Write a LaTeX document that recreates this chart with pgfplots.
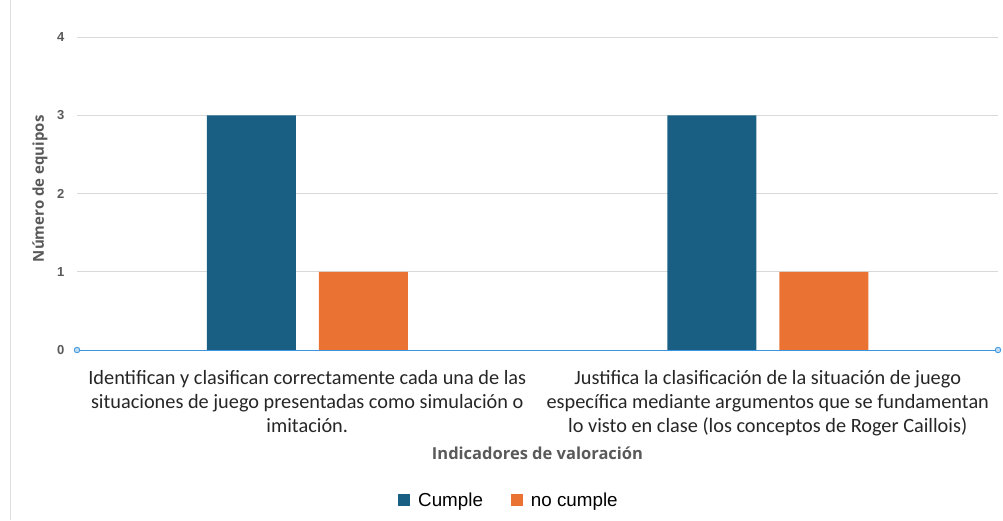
\documentclass[border=0pt]{standalone}
\usepackage{fontspec}
\setmainfont{Liberation Sans}
\newfontfamily\calibri{Carlito}
\newfontfamily\opensans{Open Sans}
\usepackage{pgfplots}
\pgfplotsset{compat=1.18}
\definecolor{cblue}{HTML}{185F83}
\definecolor{corange}{HTML}{EA7233}
\definecolor{axblue}{HTML}{3E95DE}
\definecolor{gridgray}{HTML}{D9D9D9}
\definecolor{titlegray}{HTML}{595959}
\definecolor{txtgray}{HTML}{262626}
\begin{document}
\begin{tikzpicture}[x=1pt,y=1pt]
\path[use as bounding box] (0,0) rectangle (1003,520);
\draw[gray!25, line width=0.8pt] (10.5,0) -- (10.5,520);
\begin{axis}[
  at={(77pt,170pt)}, anchor=south west,
  scale only axis, width=921pt, height=313pt,
  ymin=0, ymax=4, xmin=-0.5, xmax=1.5,
  ytick={0,1,2,3,4}, xtick={0,1},
  xticklabels={{Identifican y clasifican correctamente cada una de las\\situaciones de juego presentadas como simulación o\\imitación.},
               {Justifica la clasificación de la situación de juego\\específica mediante argumentos que se fundamentan\\lo visto en clase (los conceptos de Roger Caillois)}},
  ybar=23pt, bar width=89pt,
  axis lines*=left,
  y axis line style={draw=none},
  x axis line style={draw=none},
  major tick length=0pt,
  ymajorgrids, grid style={gridgray, line width=0.8pt},
  yticklabel style={font=\bfseries\fontsize{13}{14}\selectfont, text=titlegray, xshift=-9pt},
  xticklabel style={font=\calibri\fontsize{20.3}{24}\selectfont, align=center, text=txtgray, yshift=-17pt},
  /pgf/number format/assume math mode=true,
  ylabel={Número de equipos},
  ylabel style={font=\opensans\bfseries\fontsize{15}{17}\selectfont, text=titlegray, at={(rel axis cs:0,0.515)}, anchor=center, rotate=0, yshift=37pt},
  xlabel={Indicadores de valoración},
  xlabel style={font=\opensans\bfseries\fontsize{16.5}{18}\selectfont, text=titlegray, at={(rel axis cs:0.5,0)}, anchor=center, yshift=-103pt},
  legend style={at={(rel axis cs:0.469,0)}, anchor=center, yshift=-150pt, legend columns=2, draw=none, fill=none,
    font=\fontsize{18.8}{20}\selectfont, /tikz/every even column/.append style={column sep=26pt}},
  legend image code/.code={\draw[#1,draw=none] (0pt,-6pt) rectangle (12pt,6pt);},
  clip=false,
]
\addplot[fill=cblue, draw=none] coordinates {(0,3) (1,3)};
\addplot[fill=corange, draw=none] coordinates {(0,1) (1,1)};
\legend{\hspace{6pt}Cumple, \hspace{6pt}no cumple}
\draw[axblue, line width=1pt] (rel axis cs:0,0) -- (rel axis cs:1,0);
\draw[axblue, line width=0.8pt, fill=axblue!35] (rel axis cs:0,0) circle (2.8pt);
\draw[axblue, line width=0.8pt, fill=axblue!35] (rel axis cs:1,0) circle (2.8pt);
\end{axis}
\end{tikzpicture}
\end{document}
